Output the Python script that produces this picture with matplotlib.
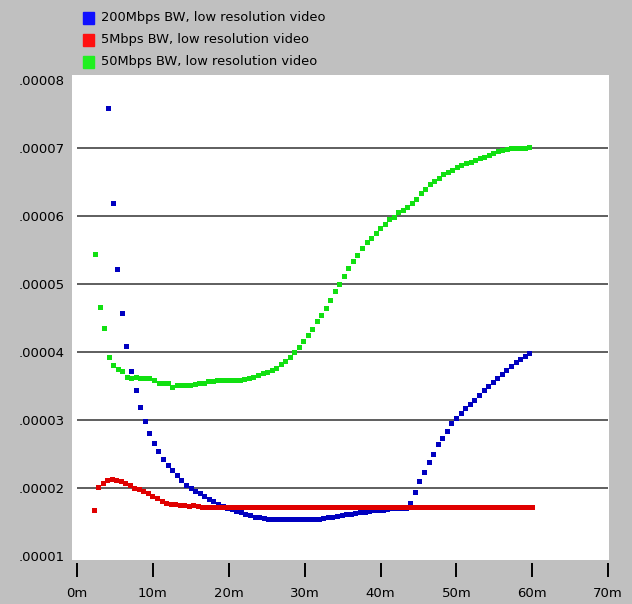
import matplotlib.pyplot as plt
import numpy as np
from matplotlib.patches import Rectangle

# legend text
labels = ["200Mbps BW, low resolution video",
          "5Mbps BW, low resolution video",
          "50Mbps BW, low resolution video"]

# values, in units of 1e-5
blue_vals = [7.59, 6.19, 5.22, 4.57, 4.08, 3.72, 3.44, 3.19, 2.99, 2.81,
             2.66, 2.54, 2.43, 2.34, 2.26, 2.19, 2.11, 2.05, 2.00,
             1.96, 1.92, 1.88, 1.84, 1.81, 1.77, 1.74, 1.71, 1.69, 1.66,
             1.64, 1.62, 1.60, 1.58, 1.57, 1.56, 1.55, 1.54, 1.54, 1.54,
             1.54, 1.54, 1.54, 1.54, 1.54, 1.54, 1.55, 1.55, 1.56, 1.57,
             1.58, 1.59, 1.60, 1.61, 1.62, 1.63, 1.64, 1.65, 1.66, 1.67,
             1.67, 1.68, 1.69, 1.70, 1.70, 1.71, 1.71,
             1.78, 1.94, 2.10, 2.24, 2.38, 2.50, 2.64, 2.73, 2.83, 2.95,
             3.03, 3.10, 3.17, 3.24, 3.30, 3.37, 3.44, 3.50, 3.56, 3.62,
             3.68, 3.74, 3.79, 3.85, 3.90, 3.94, 3.98]

red_vals = [1.68, 2.02, 2.07, 2.11, 2.13, 2.12, 2.10, 2.08, 2.04, 2.00,
            1.98, 1.96, 1.92, 1.88, 1.85, 1.81, 1.78, 1.77, 1.76, 1.75,
            1.75, 1.74, 1.75, 1.73, 1.72,
            1.72, 1.72, 1.72, 1.72, 1.72, 1.72, 1.72, 1.72, 1.72, 1.72,
            1.72, 1.72, 1.72, 1.72, 1.72, 1.72, 1.72, 1.72, 1.72, 1.72,
            1.72, 1.72, 1.72, 1.72, 1.72, 1.72, 1.72, 1.72, 1.72, 1.72,
            1.72, 1.72, 1.72, 1.72, 1.72, 1.72, 1.72, 1.72, 1.72, 1.72,
            1.72, 1.72, 1.72, 1.72, 1.72, 1.72, 1.72, 1.72, 1.72, 1.72,
            1.72, 1.72, 1.72, 1.72, 1.72, 1.72, 1.72, 1.72, 1.72, 1.72,
            1.72, 1.72, 1.72, 1.72, 1.72, 1.72, 1.72, 1.72, 1.72, 1.72,
            1.72, 1.72, 1.72]

green_vals = [5.44, 4.66, 4.35, 3.92, 3.81, 3.75, 3.72, 3.63, 3.62, 3.63,
              3.61, 3.61, 3.61, 3.59, 3.55, 3.54, 3.54, 3.49, 3.52, 3.51,
              3.52, 3.52, 3.53, 3.54, 3.55, 3.57, 3.57, 3.58, 3.58,
              3.58, 3.58, 3.58, 3.59, 3.60, 3.62, 3.63, 3.66, 3.69, 3.71,
              3.74, 3.77, 3.82, 3.87, 3.93, 4.00, 4.07, 4.16, 4.25, 4.34,
              4.45, 4.54, 4.65, 4.76, 4.89, 5.00, 5.12, 5.24, 5.34, 5.43,
              5.53, 5.61, 5.68, 5.75, 5.82, 5.88, 5.95, 5.98, 6.06, 6.09,
              6.13, 6.19, 6.25, 6.33, 6.40, 6.47, 6.51, 6.56, 6.61, 6.65,
              6.68, 6.72, 6.75, 6.77, 6.79, 6.82, 6.85, 6.87, 6.90, 6.93,
              6.95, 6.97, 6.98, 6.99, 7.00, 7.00, 7.00, 7.01]

# first and last sample time (minutes) of each series, samples evenly spaced
blue_span = (4.1, 59.6)
red_span = (2.2, 60.0)
green_span = (2.4, 59.6)

xticks = [0, 10, 20, 30, 40, 50, 60, 70]
xtick_labels = ["0m", "10m", "20m", "30m", "40m", "50m", "60m", "70m"]
yticks = [1, 2, 3, 4, 5, 6, 7, 8]
ytick_labels = [".00001", ".00002", ".00003", ".00004",
                ".00005", ".00006", ".00007", ".00008"]
grid_vals = [2, 3, 4, 5, 6, 7]

W, H = 632, 604
fig = plt.figure(figsize=(W / 100, H / 100), dpi=100, facecolor="#c0c0c0")
ax = fig.add_axes([72 / W, 1 - 560 / H, (609 - 72) / W, (560 - 75) / H])
ax.set_facecolor("white")

# horizontal grid lines
ax.hlines(np.array(grid_vals) * 1e-5, 0, 70, color="#333333", lw=1.1, zorder=1)

series = [(blue_vals, blue_span, "#0000c0"),
          (red_vals, red_span, "#e00000"),
          (green_vals, green_span, "#11e011")]
for vals, span, col in series:
    t = np.linspace(span[0], span[1], len(vals))
    ax.plot(t, np.array(vals) * 1e-5, linestyle="none", marker="s",
            ms=3.6, mew=0, color=col, zorder=3)

ax.set_xlim(-0.66, 70.1)
ax.set_ylim(0.941e-5, 8.07e-5)

for s in ax.spines.values():
    s.set_visible(False)
ax.spines["bottom"].set_position(("outward", 2.2))

ax.set_xticks(xticks)
ax.set_xticklabels(xtick_labels, fontsize=9.5)
ax.set_yticks(np.array(yticks) * 1e-5)
ax.set_yticklabels(ytick_labels, fontsize=9.5)
ax.tick_params(axis="x", length=10, width=1.4, color="black", pad=7)
ax.tick_params(axis="y", length=0, pad=5)

# legend drawn by hand in the grey band above the plot
legend_cols = ["#1010ff", "#ff1010", "#20f020"]
for i, (lab, col) in enumerate(zip(labels, legend_cols)):
    yc = 18 + 22 * i
    fig.patches.append(Rectangle((83 / W, 1 - (yc + 5.5) / H), 11 / W, 11 / H,
                                 transform=fig.transFigure, color=col))
    fig.text(101 / W, 1 - yc / H, lab, va="center", ha="left", fontsize=9.4)

fig.savefig("out.png", dpi=100, facecolor=fig.get_facecolor())
